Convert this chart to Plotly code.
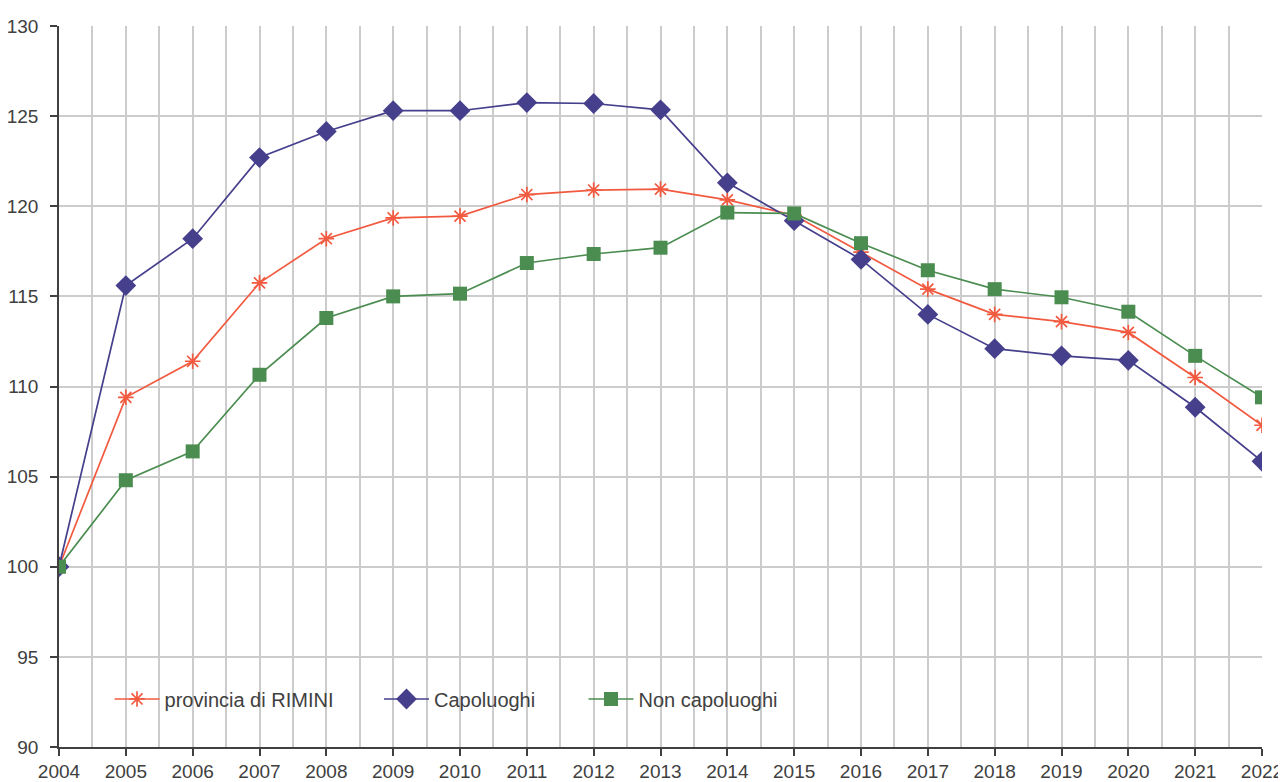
import plotly.graph_objects as go

years = list(range(2004, 2023))
provincia = [100, 109.4, 111.4, 115.75, 118.2, 119.35, 119.45, 120.65, 120.9, 120.95,
             120.35, 119.5, 117.45, 115.4, 114.0, 113.6, 113.0, 110.5, 107.85]
capoluoghi = [100, 115.6, 118.2, 122.7, 124.15, 125.3, 125.3, 125.75, 125.7, 125.35,
              121.3, 119.2, 117.05, 114.0, 112.1, 111.7, 111.45, 108.85, 105.85]
non_capoluoghi = [100, 104.8, 106.4, 110.65, 113.8, 115.0, 115.15, 116.85, 117.35, 117.7,
                  119.65, 119.6, 117.95, 116.45, 115.4, 114.95, 114.15, 111.7, 109.4]

names = ["provincia di RIMINI", "Capoluoghi", "Non capoluoghi"]
colors = ["#F25A40", "#453F8C", "#4B8D50"]
font_family = "Liberation Sans, Arial, sans-serif"

fig = go.Figure()
fig.add_trace(go.Scatter(x=years, y=provincia, name=names[0], mode="lines+markers",
                         legend="legend",
                         line=dict(color=colors[0], width=1.7),
                         marker=dict(symbol="asterisk-open", size=13,
                                     line=dict(color=colors[0], width=1.7))))
fig.add_trace(go.Scatter(x=years, y=capoluoghi, name=names[1], mode="lines+markers",
                         legend="legend2",
                         line=dict(color=colors[1], width=1.7),
                         marker=dict(symbol="diamond", size=16, color=colors[1])))
fig.add_trace(go.Scatter(x=years, y=non_capoluoghi, name=names[2], mode="lines+markers",
                         legend="legend3",
                         line=dict(color=colors[2], width=1.7),
                         marker=dict(symbol="square", size=14, color=colors[2])))

leg_common = dict(orientation="h", y=0.0666, xanchor="left", yanchor="middle",
                  bgcolor="rgba(0,0,0,0)", font=dict(size=20, color="#404040"),
                  itemwidth=45)

fig.update_layout(
    width=1278, height=774,
    margin=dict(l=51, r=24, t=18, b=35, autoexpand=False),
    paper_bgcolor="white", plot_bgcolor="white",
    font=dict(family=font_family, size=19, color="#404040"),
    showlegend=True,
    legend=dict(x=0.042, **leg_common),
    legend2=dict(x=0.266, **leg_common),
    legend3=dict(x=0.436, **leg_common),
)
fig.update_xaxes(
    range=[2004, 2022], tickmode="linear", tick0=2004, dtick=1,
    showgrid=True, gridcolor="#cccccc", gridwidth=1.5,
    minor=dict(dtick=0.5, tick0=2004, showgrid=True, gridcolor="#cccccc", gridwidth=1.5),
    showline=True, linecolor="#404040", linewidth=1.5,
    ticks="outside", ticklen=7, tickcolor="#404040", tickwidth=1.5,
    zeroline=False, tickfont=dict(size=19), automargin=False,
    ticklabelstandoff=-1,
)
fig.update_yaxes(
    range=[90, 130], tickmode="linear", tick0=90, dtick=5,
    showgrid=True, gridcolor="#cccccc", gridwidth=1.5,
    showline=True, linecolor="#404040", linewidth=1.5,
    ticks="outside", ticklen=7, tickcolor="#404040", tickwidth=1.5,
    zeroline=False, tickfont=dict(size=19), automargin=False,
    ticklabelstandoff=8,
)

fig.write_html("out.html")
